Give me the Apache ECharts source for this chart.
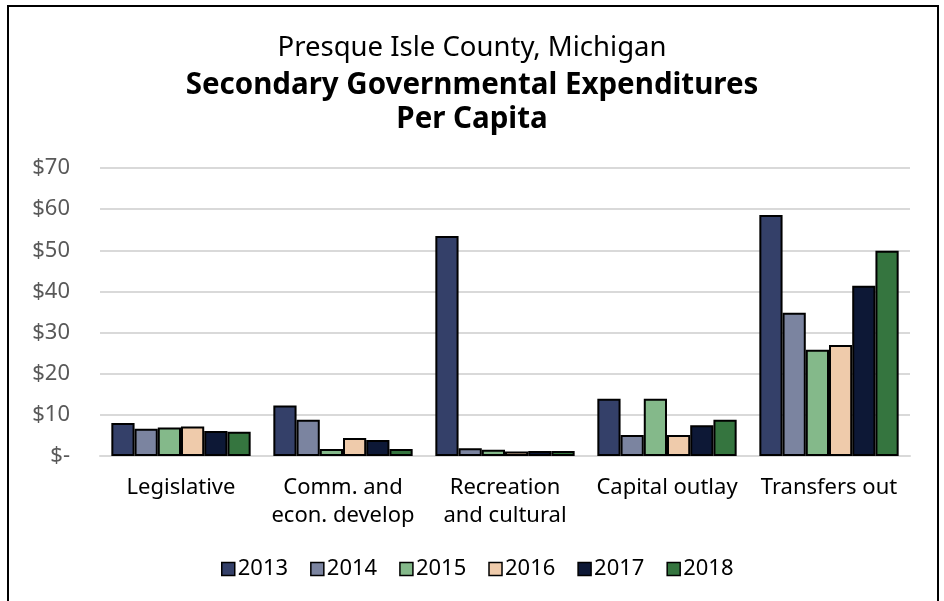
<!DOCTYPE html>
<html>
<head>
<meta charset="utf-8">
<script src="https://cdn.jsdelivr.net/npm/echarts@6/dist/echarts.min.js"></script>
<style>
  html, body { margin: 0; padding: 0; background: #fff; }
  #chart { width: 944px; height: 601px; }
</style>
</head>
<body>
<div id="chart"></div>
<script>
// 類別與年度
const categories = ['Legislative', 'Comm. and\necon. develop', 'Recreation\nand cultural', 'Capital outlay', 'Transfers out']
const years = ['2013', '2014', '2015', '2016', '2017', '2018']

// 每個年度的人均支出 (依類別順序)
const values2013 = [8.0, 12.3, 53.5, 13.9, 58.6]
const values2014 = [6.6, 8.8, 1.9, 5.1, 34.8]
const values2015 = [6.9, 1.7, 1.5, 13.9, 25.8]
const values2016 = [7.2, 4.4, 1.1, 5.1, 27.0]
const values2017 = [6.1, 3.9, 1.2, 7.5, 41.4]
const values2018 = [5.9, 1.7, 1.2, 8.8, 49.9]
const yearValues = [values2013, values2014, values2015, values2016, values2017, values2018]

const yearColors = ['#344069', '#7b84a0', '#84b98a', '#efcbab', '#0d1836', '#35753f']
const fontFamily = '"Noto Sans", sans-serif'

const chart = echarts.init(document.getElementById('chart'))

chart.setOption({
  animation: false,
  textStyle: { fontFamily: fontFamily },
  color: yearColors,
  title: [
    {
      text: 'Presque Isle County, Michigan',
      left: 'center',
      top: 29,
      textStyle: { fontSize: 27.5, fontWeight: 'normal', color: '#000' }
    },
    {
      text: 'Secondary Governmental Expenditures',
      left: 'center',
      top: 66,
      textStyle: { fontSize: 29.5, fontWeight: 'bold', color: '#000' }
    },
    {
      text: 'Per Capita',
      left: 'center',
      top: 100,
      textStyle: { fontSize: 29.5, fontWeight: 'bold', color: '#000' }
    }
  ],
  // 外框
  graphic: [
    {
      type: 'rect',
      shape: { x: 8, y: 6, width: 930, height: 640 },
      style: { fill: 'none', stroke: '#000', lineWidth: 2 },
      silent: true
    }
  ],
  legend: {
    data: years,
    left: 216,
    top: 553,
    itemWidth: 13,
    itemHeight: 13,
    itemGap: 22,
    icon: 'rect',
    itemStyle: { borderColor: '#000', borderWidth: 1.5 },
    textStyle: { fontSize: 22, color: '#000', padding: [0, 0, 0, -2] }
  },
  grid: {
    left: 100,
    right: 34,
    top: 168,
    bottom: 145
  },
  xAxis: {
    type: 'category',
    data: categories,
    axisTick: { show: false },
    axisLine: { lineStyle: { color: '#d9d9d9', width: 2 } },
    axisLabel: {
      fontSize: 22,
      color: '#000',
      margin: 18,
      lineHeight: 28,
      interval: 0
    }
  },
  yAxis: {
    type: 'value',
    min: 0,
    max: 70,
    interval: 10,
    axisLine: { show: false },
    axisTick: { show: false },
    splitLine: { lineStyle: { color: '#d9d9d9', width: 2 } },
    axisLabel: {
      fontSize: 22,
      color: '#595959',
      margin: 30,
      formatter: v => (v === 0 ? '$-' : '$' + v)
    }
  },
  series: years.map((year, i) => ({
    name: year,
    type: 'bar',
    data: yearValues[i],
    barGap: '0%',
    barCategoryGap: '14%',
    itemStyle: {
      color: yearColors[i],
      borderColor: '#000',
      borderWidth: 2
    }
  }))
})
</script>
</body>
</html>
